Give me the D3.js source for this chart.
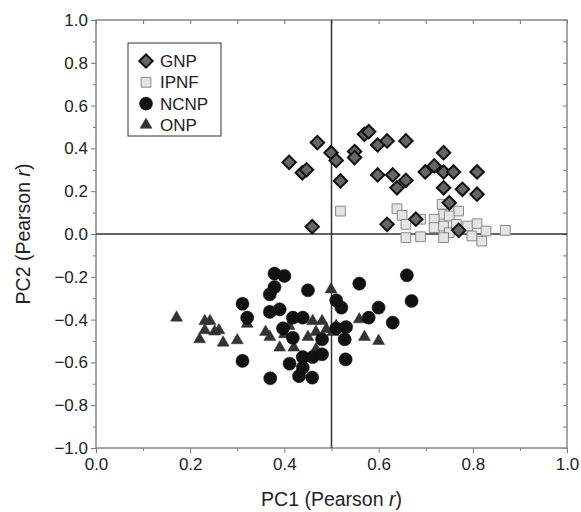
<!doctype html>
<html>
  <head>
    <meta charset="utf-8">
    <script src="https://cdn.jsdelivr.net/npm/d3@7/dist/d3.min.js"></script>
    <style>
    body { margin: 0; background: #fff; }
    text { font-family: "Liberation Sans", Arial, sans-serif; }
    .tick text { font-size: 17px; fill: #222; }
    .tick line { stroke: #777; }
    </style>
  </head>
  <body>
    <svg id="chart" width="581" height="512"></svg>
    <script>
      // values: [PC1, PC2]
      var gnp = [[0.41,0.335],[0.438,0.286],[0.447,0.30],[0.47,0.427],[0.499,0.38],[0.51,0.344],
        [0.519,0.248],[0.549,0.385],[0.549,0.357],[0.57,0.466],[0.579,0.478],[0.598,0.416],
        [0.618,0.435],[0.658,0.435],[0.598,0.276],[0.63,0.276],[0.639,0.216],[0.658,0.251],
        [0.738,0.38],[0.699,0.29],[0.718,0.318],[0.738,0.29],[0.759,0.29],[0.809,0.29],
        [0.738,0.216],[0.778,0.209],[0.809,0.186],[0.75,0.146],[0.459,0.034],[0.618,0.045],
        [0.679,0.069],[0.77,0.017]];
      var ipnf = [[0.519,0.107],[0.639,0.118],[0.65,0.087],[0.658,0.045],[0.689,0.069],[0.658,-0.017],
        [0.689,-0.013],[0.735,0.139],[0.738,0.092],[0.77,0.107],[0.718,0.069],[0.718,0.03],
        [0.738,0.037],[0.75,0.084],[0.75,0.006],[0.738,-0.017],[0.789,0.037],[0.809,0.048],
        [0.798,-0.009],[0.819,-0.033],[0.828,0.014],[0.869,0.017],[0.765,0.045]];
      var ncnp = [[0.379,-0.185],[0.4,-0.196],[0.379,-0.248],[0.369,-0.282],[0.45,-0.263],[0.559,-0.232],
        [0.311,-0.326],[0.369,-0.364],[0.39,-0.352],[0.321,-0.391],[0.51,-0.31],[0.521,-0.344],
        [0.418,-0.391],[0.439,-0.391],[0.579,-0.391],[0.6,-0.344],[0.397,-0.441],[0.51,-0.441],
        [0.531,-0.435],[0.418,-0.485],[0.48,-0.492],[0.528,-0.492],[0.311,-0.593],[0.411,-0.606],
        [0.439,-0.575],[0.46,-0.575],[0.48,-0.562],[0.53,-0.586],[0.439,-0.625],[0.431,-0.664],
        [0.459,-0.671],[0.37,-0.674],[0.66,-0.193],[0.67,-0.313],[0.63,-0.414]];
      var onp = [[0.171,-0.391],[0.231,-0.407],[0.242,-0.407],[0.231,-0.45],[0.252,-0.456],[0.261,-0.45],
        [0.22,-0.492],[0.27,-0.508],[0.3,-0.497],[0.321,-0.42],[0.36,-0.458],[0.369,-0.481],
        [0.4,-0.469],[0.41,-0.43],[0.39,-0.531],[0.42,-0.531],[0.45,-0.481],[0.46,-0.407],
        [0.48,-0.407],[0.467,-0.458],[0.489,-0.445],[0.499,-0.259],[0.503,-0.458],[0.559,-0.399],
        [0.57,-0.481],[0.6,-0.5],[0.467,-0.539],[0.51,-0.43]];
      var groups = ["GNP", "IPNF", "NCNP", "ONP"];
      var majorTicksX = [0, 0.2, 0.4, 0.6, 0.8, 1.0];
      var minorTicksX = [0.1, 0.3, 0.5, 0.7, 0.9];
      var majorTicksY = [-1.0, -0.8, -0.6, -0.4, -0.2, 0, 0.2, 0.4, 0.6, 0.8, 1.0];
      var minorTicksY = [-0.9, -0.7, -0.5, -0.3, -0.1, 0.1, 0.3, 0.5, 0.7, 0.9];

      var svg = d3.select("#chart");
      var plotL = 96, plotR = 567, plotT = 20, plotB = 448;

      var x = d3.scaleLinear().domain([0, 1]).range([plotL, plotR]);
      var y = d3.scaleLinear().domain([-1, 1]).range([plotB, plotT]);
      var fmt = d3.format(".1f");

      function noDomain(g) {
        g.select(".domain").remove();
      }

      // bottom / left: outward ticks with labels
      svg.append("g").attr("transform", `translate(0,${plotB})`)
        .call(d3.axisBottom(x).tickValues(majorTicksX).tickFormat(fmt).tickSize(5).tickPadding(5))
        .call(noDomain);
      svg.append("g").attr("transform", `translate(0,${plotB})`)
        .call(d3.axisBottom(x).tickValues(minorTicksX).tickFormat("").tickSize(3))
        .call(noDomain);
      svg.append("g").attr("transform", `translate(${plotL},0)`)
        .call(d3.axisLeft(y).tickValues(majorTicksY).tickFormat(fmt).tickSize(5).tickPadding(3))
        .call(noDomain);
      svg.append("g").attr("transform", `translate(${plotL},0)`)
        .call(d3.axisLeft(y).tickValues(minorTicksY).tickFormat("").tickSize(3))
        .call(noDomain);

      // top / right: inward ticks
      svg.append("g").attr("transform", `translate(0,${plotT})`)
        .call(d3.axisTop(x).tickValues(majorTicksX.concat(minorTicksX)).tickFormat("").tickSize(-4))
        .call(noDomain);
      svg.append("g").attr("transform", `translate(${plotR},0)`)
        .call(d3.axisRight(y).tickValues(majorTicksY.concat(minorTicksY)).tickFormat("").tickSize(-4))
        .call(noDomain);

      svg.append("rect")
        .attr("x", plotL).attr("y", plotT)
        .attr("width", plotR - plotL).attr("height", plotB - plotT)
        .attr("fill", "none").attr("stroke", "#888").attr("stroke-width", 1.5);

      // reference lines
      svg.append("line")
        .attr("x1", x(0.5)).attr("x2", x(0.5)).attr("y1", plotT).attr("y2", plotB)
        .attr("stroke", "#333").attr("stroke-width", 1.5);
      svg.append("line")
        .attr("x1", plotL).attr("x2", plotR).attr("y1", y(0)).attr("y2", y(0))
        .attr("stroke", "#333").attr("stroke-width", 1.5);

      var styles = {
        GNP:  {sym: d3.symbol().type(d3.symbolSquare).size(90), rot: 45, fill: "#666", stroke: "#111", sw: 2},
        IPNF: {sym: d3.symbol().type(d3.symbolSquare).size(95), rot: 0, fill: "#e4e4e4", stroke: "#888", sw: 1},
        NCNP: {sym: d3.symbol().type(d3.symbolCircle).size(135), rot: 0, fill: "#111", stroke: "#111", sw: 0.5},
        ONP:  {sym: d3.symbol().type(d3.symbolTriangle).size(62), rot: 0, fill: "#333", stroke: "#333", sw: 0.5}
      };
      var dataByGroup = {GNP: gnp, IPNF: ipnf, NCNP: ncnp, ONP: onp};

      ["IPNF", "GNP", "ONP", "NCNP"].forEach(function(name) {
        var s = styles[name];
        svg.append("g").selectAll("path")
          .data(dataByGroup[name])
          .enter()
          .append("path")
            .attr("d", s.sym())
            .attr("transform", d => `translate(${x(d[0])},${y(d[1])}) rotate(${s.rot})`)
            .attr("fill", s.fill)
            .attr("stroke", s.stroke)
            .attr("stroke-width", s.sw);
      });

      // legend
      var legend = svg.append("g");
      legend.append("rect")
        .attr("x", 128).attr("y", 43).attr("width", 93).attr("height", 93)
        .attr("fill", "#fff").attr("stroke", "#333").attr("stroke-width", 1);
      groups.forEach(function(name, i) {
        var s = styles[name];
        var ly = 61 + i * 21.3;
        legend.append("path")
          .attr("d", s.sym())
          .attr("transform", `translate(146,${ly}) rotate(${s.rot})`)
          .attr("fill", s.fill)
          .attr("stroke", s.stroke)
          .attr("stroke-width", s.sw);
        legend.append("text")
          .attr("x", 160).attr("y", ly).attr("dy", "0.35em")
          .style("font-size", "17px").attr("fill", "#222")
          .text(name);
      });

      // axis titles
      var xt = svg.append("text")
        .attr("x", x(0.5)).attr("y", 506)
        .attr("text-anchor", "middle")
        .style("font-size", "19.5px").attr("fill", "#222");
      xt.append("tspan").text("PC1 (Pearson ");
      xt.append("tspan").style("font-style", "italic").text("r");
      xt.append("tspan").text(")");

      var yt = svg.append("text")
        .attr("transform", `translate(30,${y(0)}) rotate(-90)`)
        .attr("text-anchor", "middle")
        .style("font-size", "19.5px").attr("fill", "#222");
      yt.append("tspan").text("PC2 (Pearson ");
      yt.append("tspan").style("font-style", "italic").text("r");
      yt.append("tspan").text(")");
    </script>
  </body>
</html>
